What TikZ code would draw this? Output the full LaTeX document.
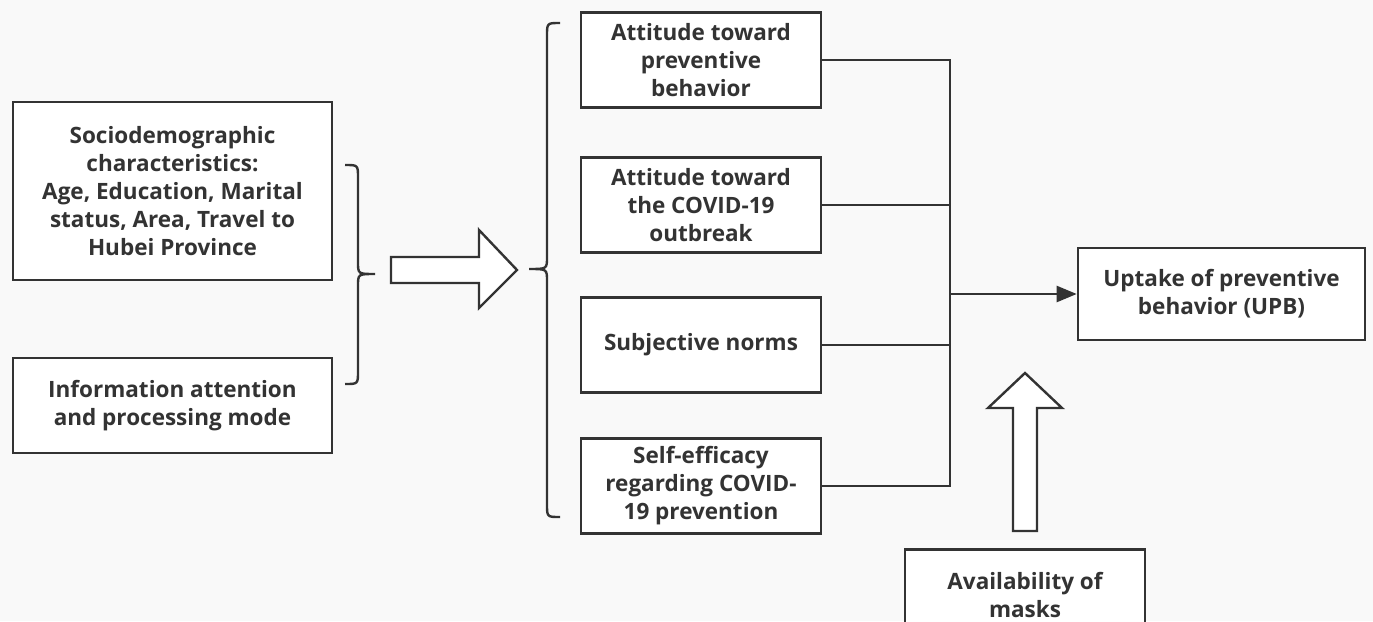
\documentclass[tikz,border=0pt]{standalone}
\usepackage{fontspec}
\setsansfont{Open Sans}
\usetikzlibrary{arrows.meta,positioning}
\definecolor{LineGray}{HTML}{333333}
\definecolor{BgGray}{HTML}{F9F9F9}

\begin{document}
\begin{tikzpicture}[x=1pt,y=-1pt,
  b/.style={draw=LineGray,line width=2.6pt,fill=white,align=center,text=LineGray,inner sep=0pt,
    font=\sffamily\bfseries\fontsize{22.5}{28}\selectfont},
  ln/.style={LineGray,line width=2.4pt},
  blk/.style={draw=LineGray,line width=2.4pt,fill=white,line join=miter}]
  \useasboundingbox[fill=BgGray] (0,0) rectangle (1373,621);
  \clip (0,0) rectangle (1373,621);
  \node[b,minimum width=319pt,minimum height=178pt] (socio) at (172.5,191) {Sociodemographic\\characteristics:\\Age, Education, Marital\\status, Area, Travel to\\Hubei Province};
  \node[b,minimum width=319pt,minimum height=95pt] (info) at (172.5,405.5) {Information attention\\and processing mode};
  \node[b,minimum width=240pt,minimum height=95pt] (att) at (701,60) {Attitude toward\\preventive\\behavior};
  \node[b,minimum width=240pt,minimum height=95pt] (cov) at (701,205) {Attitude toward\\the COVID-19\\outbreak};
  \node[b,minimum width=240pt,minimum height=95pt] (norm) at (701,345) {Subjective norms};
  \node[b,minimum width=240pt,minimum height=95pt] (eff) at (701,486) {Self-efficacy\\regarding COVID-\\19 prevention};
  \node[b,minimum width=287pt,minimum height=92pt] (upb) at (1221.5,294) {Uptake of preventive\\behavior (UPB)};
  \node[b,minimum width=240pt,minimum height=92pt,anchor=north] (mask) at (1025,548) {Availability of\\masks};
  \coordinate (j) at (950,294);
  \draw[ln] (att.east) -| (j) |- (eff.east);
  \foreach \m in {cov,norm}{\draw[ln] (\m.east) -- (\m.east -| j);}
  \draw[ln,-{Triangle[length=20pt,width=16pt]}] (j) -- (upb.west);
  % braces
  \draw[ln] (345,165) .. controls (358,165) .. (358,178) -- (358,262) .. controls (358,274) .. (375,274) .. controls (358,274) .. (358,286) -- (358,371) .. controls (358,384) .. (345,384);
  \draw[ln] (560,23) .. controls (547,23) .. (547,36) -- (547,257) .. controls (547,269) .. (529,269) .. controls (547,269) .. (547,281) -- (547,504) .. controls (547,517) .. (560,517);
  % block arrows
  \draw[blk] (391,257) -- (479,257) -- (479,230) -- (517,270) -- (479,308) -- (479,283) -- (391,283) -- cycle;
  \draw[blk] (1013,531) -- (1013,408) -- (988,408) -- (1025,373) -- (1062,408) -- (1037,408) -- (1037,531) -- cycle;
\end{tikzpicture}
\end{document}
